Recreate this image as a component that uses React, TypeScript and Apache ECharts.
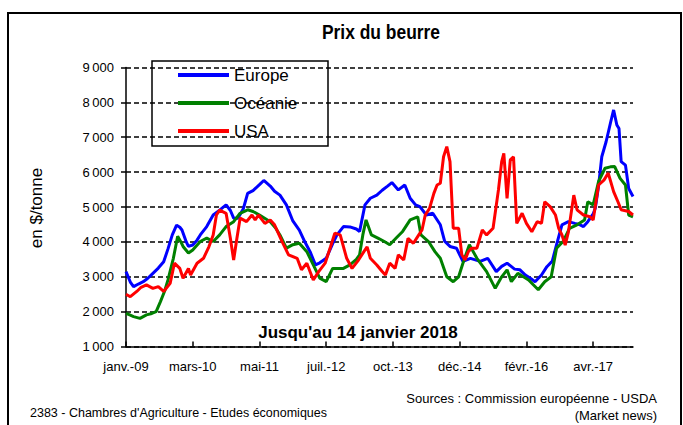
import React, { useEffect, useRef } from 'react';
import * as echarts from 'echarts';

// Weekly axis: first week 4 Jan 2009, last week 14 Jan 2018
const START_DATE = '2009-01-04';
const WEEK_COUNT = 472;
const TICK_STEP = 62; // weeks between axis labels
const tickLabels = ['janv.-09', 'mars-10', 'mai-11', 'juil.-12', 'oct.-13', 'déc.-14', 'févr.-16', 'avr.-17'];
const seriesNames = ['Europe', 'Océanie', 'USA'];

// [week index, $/tonne]
const europe: [number, number][] = [
  [0, 3150], [4, 2850], [7, 2720], [12, 2800], [16, 2860], [20, 2950], [25, 3100], [30, 3250], [35, 3430],
  [39, 3800], [43, 4200], [47, 4480], [50, 4420], [52, 4340], [56, 4000], [58, 3870], [62, 3910], [66, 4050],
  [69, 4200], [75, 4440], [81, 4770], [87, 4910], [93, 5060], [97, 4900], [100, 4680], [104, 4680], [109, 4950],
  [113, 5390], [118, 5470], [124, 5640], [128, 5760], [134, 5600], [138, 5450], [143, 5340], [149, 5060],
  [155, 4600], [161, 4340], [166, 4010], [171, 3720], [176, 3340], [180, 3400], [186, 3530], [192, 3950],
  [196, 4200], [202, 4440], [208, 4430], [214, 4370], [217, 4300], [222, 5060], [227, 5250], [233, 5340],
  [238, 5480], [243, 5600], [247, 5700], [253, 5490], [259, 5630], [264, 5250], [269, 5060], [273, 5010],
  [279, 4770], [285, 4820], [292, 4490], [296, 4020], [301, 3870], [307, 3820], [313, 3440], [320, 3530],
  [329, 3440], [336, 3530], [344, 3150], [349, 3300], [354, 3390], [361, 3220], [366, 3200], [371, 3050],
  [376, 2950], [380, 2860], [386, 3050], [391, 3290], [396, 3450], [400, 3920], [405, 4490], [411, 4580],
  [417, 4530], [421, 4500], [425, 4440], [429, 4580], [434, 4800], [436, 4970], [439, 5600], [442, 6440],
  [446, 6870], [450, 7400], [453, 7780], [456, 7350], [458, 7250], [460, 6300], [464, 6200], [467, 5530],
  [471, 5300],
];

const oceanie: [number, number][] = [
  [0, 1950], [4, 1900], [7, 1860], [13, 1810], [19, 1910], [24, 1950], [28, 2000], [32, 2290], [36, 2600],
  [39, 2910], [44, 3530], [48, 4160], [51, 4000], [53, 3870], [58, 3680], [62, 3770], [69, 4010], [75, 4110],
  [81, 4010], [87, 4200], [93, 4440], [100, 4580], [106, 4820], [113, 4920], [118, 4870], [124, 4770],
  [134, 4580], [139, 4400], [143, 4200], [149, 3820], [155, 3920], [161, 3960], [168, 3720], [174, 3340],
  [180, 2960], [186, 2860], [192, 3240], [202, 3240], [208, 3340], [214, 3500], [217, 3630], [220, 4200],
  [223, 4630], [228, 4200], [234, 4110], [240, 4010], [245, 3920], [251, 4110], [257, 4300], [264, 4630],
  [271, 4720], [274, 4200], [281, 4010], [287, 3720], [292, 3530], [298, 3000], [304, 2860], [309, 3000],
  [313, 3390], [319, 3920], [326, 3530], [335, 3150], [343, 2670], [349, 3000], [354, 3200], [358, 2860],
  [364, 3100], [374, 2910], [383, 2630], [389, 2860], [395, 3000], [400, 3820], [406, 4010], [412, 4390],
  [419, 4490], [426, 4630], [429, 5150], [434, 5060], [439, 5730], [445, 6110], [450, 6150], [454, 6160],
  [459, 5820], [464, 5630], [467, 4770], [471, 4720],
];

const usa: [number, number][] = [
  [0, 2500], [4, 2430], [10, 2580], [14, 2700], [19, 2770], [25, 2670], [30, 2720], [35, 2580], [41, 2810],
  [45, 3390], [50, 3240], [53, 2960], [58, 3240], [60, 3050], [66, 3390], [72, 3530], [77, 3860], [81, 4200],
  [84, 4770], [87, 4910], [93, 4820], [97, 4100], [100, 3480], [103, 4100], [106, 4680], [112, 4580],
  [117, 4770], [120, 4630], [123, 4770], [129, 4530], [134, 4630], [138, 4490], [145, 4010], [151, 3630],
  [159, 3530], [163, 3200], [168, 3390], [174, 2910], [179, 3150], [185, 3390], [190, 3860], [194, 4250],
  [199, 4200], [205, 3530], [210, 3240], [216, 3480], [221, 3720], [224, 3860], [227, 3530], [233, 3340],
  [238, 3150], [241, 3050], [245, 3390], [250, 3240], [253, 3630], [258, 3480], [262, 4100], [267, 3960],
  [272, 4200], [275, 4340], [278, 4770], [282, 4960], [286, 5390], [289, 5630], [292, 5680], [295, 6440],
  [298, 6730], [301, 6300], [304, 4390], [309, 4390], [312, 3630], [315, 3480], [318, 3720], [321, 3820],
  [326, 3820], [331, 4340], [335, 4200], [341, 4390], [346, 5490], [349, 6300], [351, 6540], [354, 5250],
  [357, 6350], [360, 6440], [363, 4530], [368, 4820], [372, 4530], [377, 4290], [382, 4580], [386, 4530],
  [389, 5150], [394, 5010], [399, 4770], [402, 4390], [405, 4200], [408, 3910], [411, 4290], [416, 5340],
  [419, 4920], [425, 4770], [431, 4720], [434, 4630], [439, 5630], [444, 5770], [448, 5970], [453, 5440],
  [457, 5150], [460, 4920], [467, 4870], [471, 4770],
];

const colors = ['#0000FF', '#008000', '#FF0000'];
const FONT = '"Liberation Sans", Arial, sans-serif';

export default function App() {
  const ref = useRef<HTMLDivElement>(null);

  useEffect(() => {
    document.body.style.margin = '0';
    if (!ref.current) return;
    const chart = echarts.init(ref.current, undefined, { renderer: 'svg' });

    const startMs = Date.parse(START_DATE + 'T00:00:00Z');
    const weeks = Array.from({ length: WEEK_COUNT }, (_, i) =>
      new Date(startMs + i * 7 * 86400000).toISOString().slice(0, 10)
    );

    const fmtThousands = (v: number) => String(v).replace(/\B(?=(\d{3})+(?!\d))/g, '\u2009');

    chart.setOption({
      animation: false,
      grid: { left: 126, right: 50, top: 67.4, bottom: 78.4 },
      legend: {
        data: seriesNames,
        orient: 'vertical',
        left: 178,
        top: 66,
        itemWidth: 51,
        itemHeight: 4,
        itemGap: 10,
        icon: 'rect',
        padding: 0,
        selectedMode: false,
        textStyle: { fontFamily: FONT, fontSize: 17, color: '#000', lineHeight: 18 },
      },
      xAxis: {
        type: 'category',
        data: weeks,
        boundaryGap: false,
        axisLine: { lineStyle: { color: '#000', width: 1.5 } },
        axisTick: { inside: true, length: 5, interval: TICK_STEP - 1, lineStyle: { color: '#000', width: 1.5 } },
        axisLabel: {
          interval: TICK_STEP - 1,
          margin: 13,
          fontFamily: FONT,
          fontSize: 13,
          color: '#000',
          formatter: (_v: string, i: number) => (i % TICK_STEP === 0 ? tickLabels[i / TICK_STEP] ?? '' : ''),
        },
        splitLine: { show: false },
      },
      yAxis: {
        type: 'value',
        min: 1000,
        max: 9000,
        interval: 1000,
        axisLine: { show: true, lineStyle: { color: '#000', width: 1.5 } },
        axisTick: { show: true, length: 5, lineStyle: { color: '#000', width: 1.5 } },
        axisLabel: { margin: 12, fontFamily: FONT, fontSize: 13, color: '#000', formatter: fmtThousands },
        splitLine: { show: true, lineStyle: { color: '#000', width: 1.5, type: [5, 3] } },
      },
      series: [europe, oceanie, usa].map((d, i) => ({
        name: seriesNames[i],
        type: 'line',
        data: d,
        showSymbol: false,
        symbol: 'none',
        color: colors[i],
        lineStyle: { color: colors[i], width: 3 },
      })),
      graphic: [
        { type: 'rect', silent: true, shape: { x: 8, y: 13, width: 673, height: 430 }, style: { fill: 'none', stroke: '#000', lineWidth: 2 } },
        { type: 'rect', silent: true, shape: { x: 152, y: 61, width: 176, height: 85 }, style: { fill: 'none', stroke: '#000', lineWidth: 1.5 } },
        { type: 'text', silent: true, x: 381, y: 32, scaleX: 0.83, style: { text: 'Prix du beurre', font: 'bold 21px ' + FONT, fill: '#000', align: 'center', verticalAlign: 'middle' } },
        { type: 'text', silent: true, x: 36, y: 208, rotation: Math.PI / 2, style: { text: 'en $/tonne', font: '17px ' + FONT, fill: '#000', align: 'center', verticalAlign: 'middle' } },
        { type: 'text', silent: true, x: 358, y: 332, style: { text: "Jusqu'au 14 janvier 2018", font: 'bold 17px ' + FONT, fill: '#000', align: 'center', verticalAlign: 'middle' } },
        { type: 'text', silent: true, x: 657, y: 398, style: { text: 'Sources : Commission européenne - USDA', font: '13px ' + FONT, fill: '#000', align: 'right', verticalAlign: 'middle' } },
        { type: 'text', silent: true, x: 657, y: 415, style: { text: '(Market news)', font: '13px ' + FONT, fill: '#000', align: 'right', verticalAlign: 'middle' } },
        { type: 'text', silent: true, x: 30, y: 413, style: { text: "2383 - Chambres d'Agriculture - Etudes économiques", font: '12.5px ' + FONT, fill: '#000', align: 'left', verticalAlign: 'middle' } },
      ],
    });

    return () => chart.dispose();
  }, []);

  return <div ref={ref} style={{ width: 683, height: 425 }} />;
}
